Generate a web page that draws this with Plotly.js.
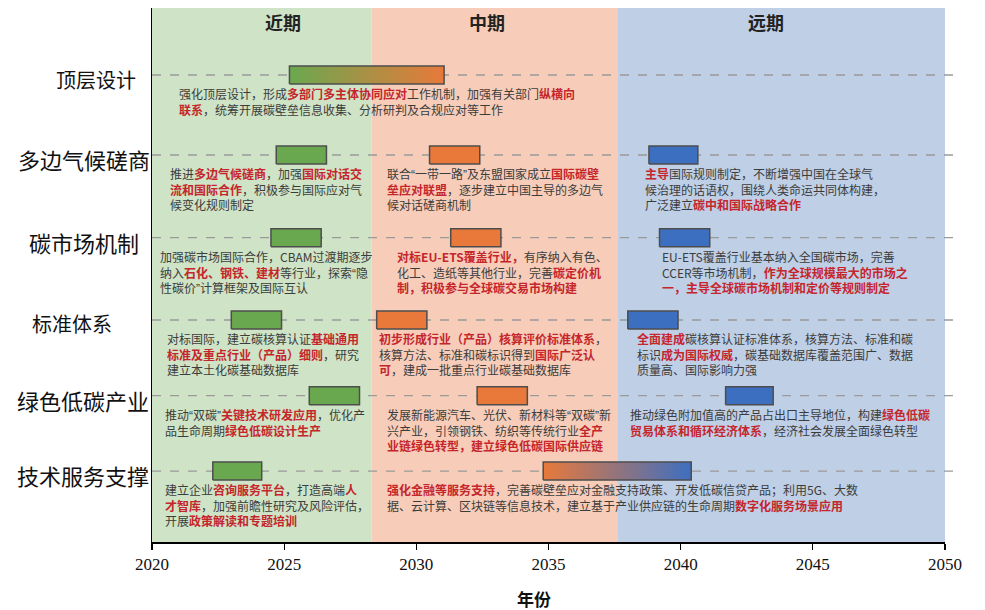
<!DOCTYPE html>
<html><head><meta charset="utf-8">
<script src="https://cdn.plot.ly/plotly-3.0.1.min.js"></script>
<style>html,body{margin:0;padding:0;background:#fff}</style>
</head><body>
<div id="chart" style="width:985px;height:610px"></div>
<script>
// ---------- data ----------
const rowNames = ['顶层设计','多边气候磋商','碳市场机制','标准体系','绿色低碳产业','技术服务支撑'];
const phaseNames = ['近期','中期','远期'];
const phaseStart = [2020, 2028.3, 2037.6];
const phaseEnd   = [2028.3, 2037.6, 2050];
const xTicks = [2020, 2025, 2030, 2035, 2040, 2045, 2050];

const barRow   = [0, 1, 1, 1, 2, 2, 2, 3, 3, 3, 4, 4, 4, 5, 5];
const barStart = [2025.2, 2024.7, 2030.5, 2038.8, 2024.5, 2031.3, 2039.2, 2023.0, 2028.5, 2038.0, 2025.95, 2032.3, 2041.7, 2022.3, 2034.8];
const barEnd   = [2031.05, 2026.6, 2032.4, 2040.65, 2026.4, 2033.2, 2041.1, 2024.9, 2030.4, 2039.9, 2027.85, 2034.2, 2043.5, 2024.15, 2040.4];
const barPhase = ['近中','近','中','远','近','中','远','近','中','远','近','中','远','近','中远'];

const noteRow = [0, 1, 1, 1, 2, 2, 2, 3, 3, 3, 4, 4, 4, 5, 5];
const noteText = [
  '强化顶层设计，形成{多部门多主体协同应对}工作机制，加强有关部门{纵横向}\n{联系}，统筹开展碳壁垒信息收集、分析研判及合规应对等工作',
  '推进{多边气候磋商}，加强{国际对话交}\n{流和国际合作}，积极参与国际应对气\n候变化规则制定',
  '联合“一带一路”及东盟国家成立{国际碳壁}\n{垒应对联盟}，逐步建立中国主导的多边气\n候对话磋商机制',
  '{主导}国际规则制定，不断增强中国在全球气\n候治理的话语权，围绕人类命运共同体构建，\n广泛建立{碳中和国际战略合作}',
  '加强碳市场国际合作，CBAM过渡期逐步\n纳入{石化、钢铁、建材}等行业，探索“隐\n性碳价”计算框架及国际互认',
  '{对标EU-ETS覆盖行业，}有序纳入有色、\n化工、造纸等其他行业，完善{碳定价机}\n{制，积极参与全球碳交易市场构建}',
  'EU-ETS覆盖行业基本纳入全国碳市场，完善\nCCER等市场机制，{作为全球规模最大的市场之}\n{一，主导全球碳市场机制和定价等规则制定}',
  '对标国际，建立碳核算认证{基础通用}\n{标准及重点行业（产品）细则}，研究\n建立本土化碳基础数据库',
  '{初步形成行业（产品）核算评价标准体系}，\n核算方法、标准和碳标识得到{国际广泛认}\n{可}，建成一批重点行业碳基础数据库',
  '{全面建成}碳核算认证标准体系，核算方法、标准和碳\n标识{成为国际权威}，碳基础数据库覆盖范围广、数据\n质量高、国际影响力强',
  '推动“双碳”{关键技术研发应用}，优化产\n品生命周期{绿色低碳设计生产}',
  '发展新能源汽车、光伏、新材料等“双碳”新\n兴产业，引领钢铁、纺织等传统行业{全产}\n{业链绿色转型，建立绿色低碳国际供应链}',
  '推动绿色附加值高的产品占出口主导地位，构建{绿色低碳}\n{贸易体系和循环经济体系}，经济社会发展全面绿色转型',
  '建立企业{咨询服务平台}，打造高端{人}\n{才智库}，加强前瞻性研究及风险评估，\n开展{政策解读和专题培训}',
  '{强化金融等服务支持}，完善碳壁垒应对金融支持政策、开发低碳信贷产品；利用5G、大数\n据、云计算、区块链等信息技术，建立基于产业供应链的生命周期{数字化服务场景应用}'
];

// ---------- layout helpers (positions & styles) ----------
const rowPos = [6, 4.99, 3.946, 2.907, 1.951, 1];
const noteX = [2020.95, 2020.6, 2028.82, 2038.58, 2020.23, 2029.19, 2039.22, 2020.49, 2028.51, 2038.26, 2020.42, 2028.82, 2038.01, 2020.42, 2028.82];
const labelCenterPx = [96, 84, 84, 72, 83, 83];
const labelSize = [20, 22, 22, 20, 22, 22];
const phaseLabelX = [2024.96, 2032.68, 2043.23];
const PLOT_L = 152, PLOT_W = 793;

const CJK = '"Noto Sans CJK SC", "Noto Sans", sans-serif';
const RED = '#c5262c';
const TXT = '#3c3c3c';
const bgColor = ['#cfe3c6', '#f7cdb9', '#bfcfe6'];
const phaseColor = {'近':'#6aa84f','中':'#e8793b','远':'#3d6fc0'};
const barHalf = 0.114;

function rich(s){
  return s.split('\n').map(line =>
    line
      .replace(/\{([^}]*)\}/g, (m, t) => `<b><span style="color:${RED}">${t}</span></b>`)
      .replace(/[“”]/g, q => `<span style="font-family:Liberation Sans">${q}</span>`)
  ).join('<br>');
}

const traces = [];
barRow.forEach((r, i) => {
  const y = rowPos[r];
  const x0 = barStart[i], x1 = barEnd[i];
  const kinds = barPhase[i].split('');
  const t = {
    type: 'scatter', mode: 'lines',
    x: [x0, x1, x1, x0, x0],
    y: [y - barHalf, y - barHalf, y + barHalf, y + barHalf, y - barHalf],
    fill: 'toself',
    line: {color: '#4d4d4d', width: 1.5},
    fillcolor: phaseColor[kinds[0]],
    hoverinfo: 'skip', showlegend: false
  };
  if (kinds.length > 1) {
    t.fillgradient = {type: 'horizontal', colorscale: [[0, phaseColor[kinds[0]]], [1, phaseColor[kinds[1]]]]};
  }
  traces.push(t);
});
// arrow heads at end of dashed guide lines
traces.push({
  type: 'scatter', mode: 'markers',
  x: rowNames.map(() => 2050.45), y: rowNames.map((n, i) => rowPos[i]),
  marker: {symbol: 'triangle-right', size: 7, color: '#9a9a9a'},
  cliponaxis: false, hoverinfo: 'skip', showlegend: false
});

const shapes = [];
phaseNames.forEach((p, i) => {
  shapes.push({type: 'rect', xref: 'x', yref: 'paper', x0: phaseStart[i], x1: phaseEnd[i], y0: 0, y1: 1,
    fillcolor: bgColor[i], line: {width: 0}, layer: 'below'});
});
rowNames.forEach((n, i) => {
  shapes.push({type: 'line', xref: 'paper', yref: 'y', x0: 0, x1: 1.012, y0: rowPos[i], y1: rowPos[i],
    line: {color: '#9a9a9a', width: 1.3, dash: 'dash'}, layer: 'below'});
});

const annotations = [];
phaseNames.forEach((p, i) => {
  annotations.push({xref: 'x', yref: 'paper', x: phaseLabelX[i], y: 0.974, text: '<b>' + p + '</b>',
    showarrow: false, font: {family: CJK, size: 18, color: '#222'}, xanchor: 'center', yanchor: 'middle'});
});
rowNames.forEach((n, i) => {
  annotations.push({xref: 'paper', yref: 'y', x: (labelCenterPx[i] - PLOT_L) / PLOT_W, y: rowPos[i], yshift: -4,
    text: n, showarrow: false, font: {family: CJK, size: labelSize[i], color: '#111'}, xanchor: 'center', yanchor: 'middle'});
});
noteText.forEach((s, i) => {
  annotations.push({xref: 'x', yref: 'y', x: noteX[i], y: rowPos[noteRow[i]], yshift: -8,
    text: rich(s), showarrow: false, align: 'left', xanchor: 'left', yanchor: 'top',
    font: {family: CJK, size: 12, color: TXT}});
});
annotations.push({xref: 'paper', yref: 'paper', x: (534 - PLOT_L) / PLOT_W, y: -0.105, text: '<b>年份</b>',
  showarrow: false, font: {family: CJK, size: 17, color: '#111'}, xanchor: 'center', yanchor: 'middle'});

const layout = {
  width: 985, height: 610,
  margin: {l: 152, r: 40, t: 8, b: 68},
  paper_bgcolor: '#fff', plot_bgcolor: '#fff',
  showlegend: false,
  xaxis: {range: [2020, 2050], tickvals: xTicks, ticks: 'outside', ticklen: 6, tickwidth: 1.2, tickcolor: '#000',
    showline: true, linecolor: '#000', linewidth: 1.5, showgrid: false, zeroline: false,
    tickfont: {family: '"Liberation Serif", "Times New Roman", serif', size: 17, color: '#111'}},
  yaxis: {range: [0.104, 6.846], showline: true, linecolor: '#000', linewidth: 1.5, showgrid: false,
    zeroline: false, showticklabels: false, ticks: ''},
  shapes: shapes,
  annotations: annotations
};

Plotly.newPlot('chart', traces, layout, {displayModeBar: false, staticPlot: true});
</script>
</body></html>
